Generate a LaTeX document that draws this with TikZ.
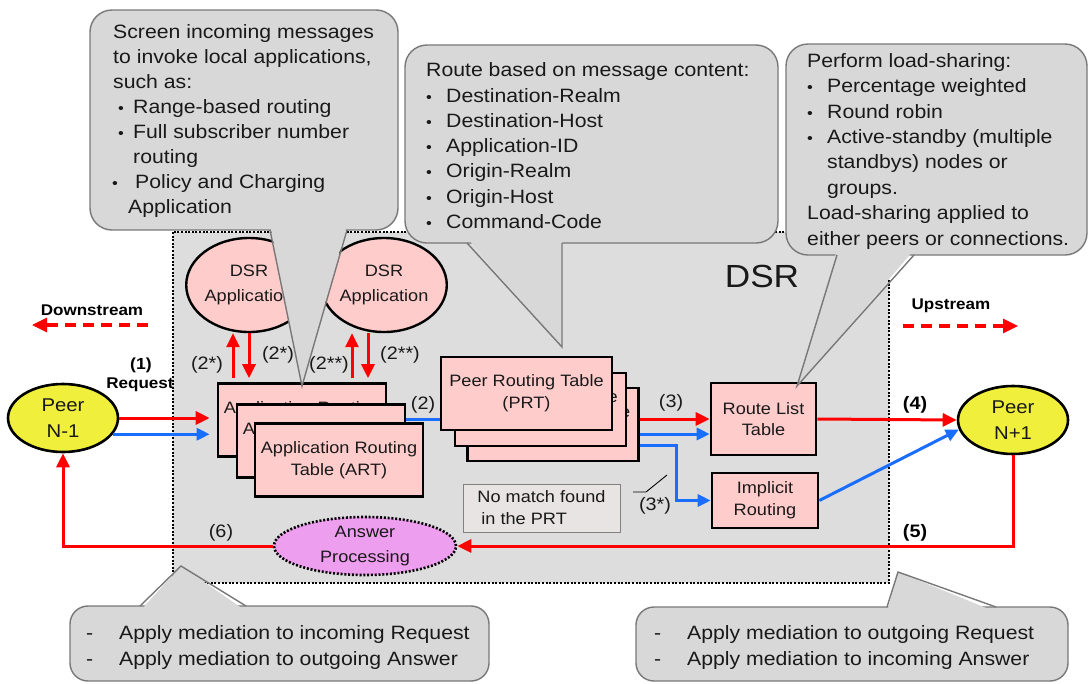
\documentclass[tikz,border=0pt]{standalone}
\usepackage{fontspec}
\setmainfont{Liberation Sans}[FakeStretch=1.1]
\usetikzlibrary{arrows.meta,calc,shapes.geometric}
\definecolor{dsrgray}{RGB}{221,221,221}
\definecolor{cgray}{RGB}{216,216,216}
\definecolor{cborder}{RGB}{120,120,120}
\definecolor{pinkbox}{RGB}{255,204,204}
\definecolor{peeryel}{RGB}{240,240,60}
\definecolor{violetap}{RGB}{238,158,238}
\definecolor{arrred}{RGB}{255,0,0}
\definecolor{arrblue}{RGB}{25,110,255}
\definecolor{nmfill}{RGB}{232,228,228}
\definecolor{nmborder}{RGB}{130,130,130}
\definecolor{txt}{RGB}{25,25,25}
\newcommand\myfs[2]{\fontsize{#1}{#2}\selectfont}
\newcommand\cbul[1]{\makebox[20pt][l]{\hspace*{#1}{\myfs{15}{15}\textbullet}}}
\begin{document}
\begin{tikzpicture}[x=1pt,y=-1pt,
  txtc/.style={text=txt, inner sep=0pt},
  pinkrect/.style={rectangle, draw=black, line width=2.6pt, fill=pinkbox, minimum width=168pt, minimum height=73pt, inner sep=0pt, text=txt, align=center, font=\myfs{16.5}{22}},
  prtrect/.style={pinkrect, minimum width=171pt},
  peer/.style={ellipse, draw=black, line width=2.6pt, fill=peeryel, minimum width=110pt, minimum height=68pt, inner sep=0pt, text=txt, align=center, font=\myfs{18.5}{26}},
  appell/.style={ellipse, draw=black, line width=2.4pt, fill=pinkbox, minimum width=122pt, minimum height=94pt, inner sep=0pt, text=txt, align=center, font=\myfs{16.5}{25}},
  redarr/.style={draw=arrred, line width=3pt, -{Triangle[length=14pt,width=13pt]}},
  bluearr/.style={draw=arrblue, line width=3pt, -{Triangle[length=13pt,width=12pt]}},
  blueline/.style={draw=arrblue, line width=3pt},
  dasharr/.style={draw=arrred, line width=3.2pt, dash pattern=on 11pt off 7pt, -{Triangle[length=15pt,width=14pt]}},
  lbl/.style={text=txt, inner sep=0pt, font=\myfs{18}{20}},
  lblb/.style={text=black, inner sep=0pt, font=\bfseries\myfs{18}{20}},
  dirlbl/.style={text=black, inner sep=0pt, font=\bfseries\myfs{15.5}{18}},
  cfill/.style={fill=cgray},
  cline/.style={draw=cborder, line width=1.4pt},
  ctext/.style={text=txt, inner sep=0pt, align=left, anchor=base west}
]
\useasboundingbox (0,0) rectangle (1089,683);
\fill[white] (0,0) rectangle (1089,683);

% DSR region
\filldraw[fill=dsrgray, draw=black, line width=2.4pt, dash pattern=on 2pt off 1.6pt] (173,232) rectangle (889,583);
\node[txtc, font=\myfs{32}{34}] (dsrlbl) at (762,276) {DSR};

% DSR applications
\node[appell] (app1) at (249,285) {DSR\\Application};
\node[appell] (app2) at (384,285) {DSR\\Application};

% ART stack
\node[pinkrect] (art1) at (302,420) {Application Routing\\Table (ART)};
\node[pinkrect] (art2) at (321,441) {Application Routing\\Table (ART)};
\node[pinkrect] (art3) at (339,460) {Application Routing\\Table (ART)};

% PRT stack
\node[prtrect] (prt3) at (553,424.5) {Peer Routing Table\\(PRT)};
\node[prtrect] (prt2) at (540.5,409.5) {Peer Routing Table\\(PRT)};
\node[prtrect] (prt1) at (526.5,393.5) {Peer Routing Table\\(PRT)};

\node[pinkrect, minimum width=105pt, minimum height=72pt, font=\myfs{16.5}{21}] (rlt) at (763.5,419) {Route List\\Table};
\node[pinkrect, minimum width=106pt, minimum height=55pt, font=\myfs{16.5}{22}] (ir) at (765,500.5) {Implicit\\Routing};
\node[rectangle, draw=nmborder, line width=1pt, fill=nmfill, minimum width=157pt, minimum height=48pt, inner sep=0pt, text=txt, align=left, font=\myfs{16.5}{22}] (nomatch) at (541.5,508) {No match found\\\hspace*{4pt}in the PRT};

\node[ellipse, draw=black, line width=2.6pt, dash pattern=on 2pt off 1.8pt, fill=violetap, minimum width=182pt, minimum height=58pt, inner sep=0pt, text=txt, align=center, font=\myfs{16.5}{25}] (ap) at (365,546) {Answer\\Processing};

\node[peer] (pn1) at (63,418) {Peer\\N-1};
\node[peer] (pn2) at (1013,420) {Peer\\N+1};

% connectors
\draw[redarr, shorten >=7pt] (pn1.east) -- (pn1.east -| art1.west);
\draw[bluearr, shorten >=7pt] (pn1.-18) -- (pn1.-18 -| art1.west);

\coordinate (u1) at ($(app1.south)+(-16,0)$);
\draw[redarr, shorten <=4pt] (u1 |- art1.north) -- (u1);
\draw[redarr, shorten >=4pt] (app1.south) -- (app1.south |- art1.north);
\coordinate (u2) at ($(app2.south)+(-32,0)$);
\coordinate (d2) at ($(app2.south)+(-16,0)$);
\draw[redarr, shorten <=4pt] (u2 |- art1.north) -- (u2);
\draw[redarr, shorten >=4pt] (d2) -- (d2 |- art1.north);

\coordinate (b0) at ($(art2.north east)+(0,16)$);
\draw[blueline] (b0) -- (b0 -| prt1.west);

\draw[redarr] (prt3.east |- rlt.west) -- (rlt.west);
\coordinate (b1) at ($(prt3.east)+(0,9.5)$);
\draw[bluearr] (b1) -- (b1 -| rlt.west);
\coordinate (b2) at ($(prt3.east)+(0,20.5)$);
\draw[bluearr] (b2) -- ++(37,0) |- (ir.west);

\draw[redarr] (rlt.east) -- (pn2.west);
\draw[bluearr] (ir.east) -- (pn2.190);
\draw[redarr] (pn2.south) |- (ap.east);
\draw[redarr] (ap.west) -| (pn1.south);

\draw[black, line width=0.9pt] (633,492) -- (646,492) -- (667,475);

% direction indicators
\node[dirlbl] (dsl) at (92,310) {Downstream};
\coordinate (ds1) at (148,325);
\coordinate (ds2) at (32,325);
\draw[dasharr] (ds1) -- (ds2);
\node[dirlbl] (usl) at (951,306) {Upstream};
\coordinate (us1) at (903,326);
\coordinate (us2) at (1018,326);
\draw[dasharr] (us1) -- (us2);

% labels
\node[dirlbl, font=\bfseries\myfs{16}{18}] (l1) at (141,365) {(1)};
\node[dirlbl] (lreq) at (140,385) {Request};
\node[lbl] (l2a) at (207,365) {(2*)};
\node[lbl] (l2b) at (278,355) {(2*)};
\node[lbl] (l2c) at (329,365) {(2**)};
\node[lbl] (l2d) at (400,355) {(2**)};
\node[lbl] (l2) at (423,405) {(2)};
\node[lbl] (l3) at (671,403) {(3)};
\node[lbl] (l3s) at (655,506) {(3*)};
\node[lblb] (l4) at (915,405) {(4)};
\node[lblb] (l5) at (915,533) {(5)};
\node[lbl] (l6) at (221,533) {(6)};

% callout A
\filldraw[cfill, cline, rounded corners=22pt] (90,10) rectangle (398,230);
\fill[cgray] (270,225) -- (302,386) -- (347,225) -- cycle;
\draw[cline] (270,230) -- (302,386) -- (347,230);
% callout B
\filldraw[cfill, cline, rounded corners=22pt] (405,45) rectangle (778,243);
\fill[cgray] (467,238) -- (562,347) -- (562,238) -- cycle;
\draw[cline] (467,243) -- (562,347) -- (562,243);
% callout C
\filldraw[cfill, cline, rounded corners=22pt] (786,44) rectangle (1087,255);
\fill[cgray] (837,250) -- (797,386) -- (914,250) -- cycle;
\draw[cline] (837,255) -- (797,386) -- (914,255);
% callout D
\filldraw[cfill, cline, rounded corners=18pt] (70,606) rectangle (489,681);
\fill[cgray] (140,611) -- (181,566) -- (246,611) -- cycle;
\draw[cline] (140,606) -- (181,566) -- (246,606);
% callout E
\filldraw[cfill, cline, rounded corners=18pt] (636,607) rectangle (1068,681);
\fill[cgray] (887,612) -- (898,572) -- (996,612) -- cycle;
\draw[cline] (887,607) -- (898,572) -- (996,607);

% callout texts (anchor = baseline of the last line)
\node[ctext, font=\myfs{19.3}{25}] (ctA) at (113,213) {Screen incoming messages\\to invoke local applications,\\such as:\\\cbul{5pt}Range-based routing\\\cbul{5pt}Full subscriber number\\\hspace*{20pt}routing\\\makebox[22pt][l]{\hspace*{-1pt}{\myfs{15}{15}\textbullet}}Policy and Charging\\\hspace*{15pt}Application};
\node[ctext, font=\myfs{19.3}{25.3}] (ctB) at (426,228.5) {Route based on message content:\\\cbul{0pt}Destination-Realm\\\cbul{0pt}Destination-Host\\\cbul{0pt}Application-ID\\\cbul{0pt}Origin-Realm\\\cbul{0pt}Origin-Host\\\cbul{0pt}Command-Code};
\node[ctext, font=\myfs{19.3}{25.4}] (ctC) at (807,245) {Perform load-sharing:\\\cbul{0pt}Percentage weighted\\\cbul{0pt}Round robin\\\cbul{0pt}Active-standby (multiple\\\hspace*{20pt}standbys) nodes or\\\hspace*{20pt}groups.\\Load-sharing applied to\\either peers or connections.};
\node[ctext, font=\myfs{19.3}{26}] (ctD) at (86,665) {\makebox[33pt][l]{-}Apply mediation to incoming Request\\\makebox[33pt][l]{-}Apply mediation to outgoing Answer};
\node[ctext, font=\myfs{19.3}{26}] (ctE) at (654,665) {\makebox[33pt][l]{-}Apply mediation to outgoing Request\\\makebox[33pt][l]{-}Apply mediation to incoming Answer};
\end{tikzpicture}
\end{document}
